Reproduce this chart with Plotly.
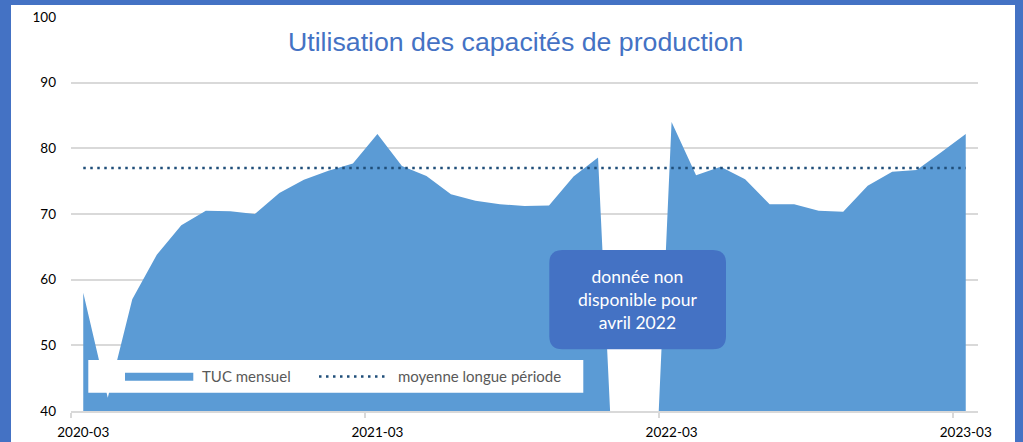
import plotly.graph_objects as go

# ---- data ----
months = ["2020-03", "2020-04", "2020-05", "2020-06", "2020-07", "2020-08", "2020-09",
          "2020-10", "2020-11", "2020-12", "2021-01", "2021-02", "2021-03", "2021-04",
          "2021-05", "2021-06", "2021-07", "2021-08", "2021-09", "2021-10", "2021-11",
          "2021-12", "2022-01", "2022-02", "2022-03", "2022-04", "2022-05", "2022-06",
          "2022-07", "2022-08", "2022-09", "2022-10", "2022-11", "2022-12", "2023-01",
          "2023-02", "2023-03"]
tuc_mensuel = [58.0, 42.0, 57.0, 63.8, 68.3, 70.5, 70.4,
               70.0, 73.2, 75.2, 76.6, 77.7, 82.2, 77.3,
               75.8, 73.0, 72.0, 71.5, 71.2, 71.3, 75.7,
               78.6, 0.0, 0.0, 84.0, 75.9, 77.2, 75.3,
               71.5, 71.5, 70.5, 70.35, 74.3, 76.45, 76.7,
               79.4, 82.2]
moyenne_value = 77.0
moyenne = [moyenne_value] * len(months)
tick_labels = ["2020-03", "2021-03", "2022-03", "2023-03"]
y_ticks = [40, 50, 60, 70, 80, 90, 100]

title_text = "Utilisation des capacités de production"
note_text = "donnée non<br>disponible pour<br>avril 2022"
legend_names = ["TUC mensuel", "moyenne longue période"]

# ---- layout geometry (pixels) ----
W, H = 1023, 442
L, R, T, B = 71, 45, 17, 31
PW, PH = W - L - R, H - T - B
def px(x):
    return (x - L) / PW
def py(y):
    return (H - B - y) / PH

xi = list(range(len(months)))
idx = {m: i for i, m in enumerate(months)}

AREA = "#5B9BD5"
FRAME = "#4472C4"
DOT = "#1F4E79"
GRID = "#D9D9D9"

fig = go.Figure()
fig.add_trace(go.Scatter(x=xi, y=tuc_mensuel, mode="none", fill="tozeroy",
                         fillcolor=AREA, name=legend_names[0], showlegend=False,
                         hoverinfo="skip"))
fig.add_trace(go.Scatter(x=xi, y=moyenne, mode="lines",
                         line=dict(color=DOT, width=2.5, dash="2.5px,4.5px"),
                         name=legend_names[1], showlegend=False, hoverinfo="skip"))

shapes = []
# blue frame
for (x0, y0, x1, y1) in [(-5, -5, 11, H + 5), (-5, -5, W + 5, 5), (1015, -5, W + 5, H + 5)]:
    shapes.append(dict(type="rect", xref="paper", yref="paper",
                       x0=px(x0), x1=px(x1), y0=py(y1), y1=py(y0),
                       fillcolor=FRAME, line=dict(width=0), layer="above"))
# legend box
shapes.append(dict(type="rect", xref="paper", yref="paper",
                   x0=px(88.3), x1=px(583.3), y0=py(392.7), y1=py(360),
                   fillcolor="white", line=dict(width=0), layer="above"))
shapes.append(dict(type="rect", xref="paper", yref="paper",
                   x0=px(125), x1=px(193.3), y0=py(380.7), y1=py(372.7),
                   fillcolor=AREA, line=dict(width=0), layer="above"))
shapes.append(dict(type="line", xref="paper", yref="paper",
                   x0=px(319), x1=px(386), y0=py(376.5), y1=py(376.5),
                   line=dict(color=DOT, width=2.5, dash="2.5px,4.5px"), layer="above"))
# rounded note box
bx0, bx1, by0, by1, rr = 549.3, 726.0, 250.0, 349.3, 13
pts = [
    ("M", bx0 + rr, by0), ("L", bx1 - rr, by0), ("Q", bx1, by0, bx1, by0 + rr),
    ("L", bx1, by1 - rr), ("Q", bx1, by1, bx1 - rr, by1), ("L", bx0 + rr, by1),
    ("Q", bx0, by1, bx0, by1 - rr), ("L", bx0, by0 + rr), ("Q", bx0, by0, bx0 + rr, by0),
]
path = ""
for p in pts:
    cmd = p[0]
    coords = p[1:]
    seg = []
    for k in range(0, len(coords), 2):
        seg.append(f"{px(coords[k]):.5f},{py(coords[k+1]):.5f}")
    path += cmd + " " + " ".join(seg) + " "
path += "Z"
shapes.append(dict(type="path", xref="paper", yref="paper", path=path,
                   fillcolor=FRAME, line=dict(width=0), layer="above"))

annotations = [
    dict(text=title_text, xref="paper", yref="paper", x=px(515.5), y=py(42.4),
         xanchor="center", yanchor="middle", showarrow=False,
         font=dict(family="Liberation Sans", size=26.7, color=FRAME)),
    dict(text=note_text, xref="paper", yref="paper", x=px(637.7), y=py(299),
         xanchor="center", yanchor="middle", showarrow=False, align="center",
         font=dict(family="Lato", size=17.5, color="white")),
    dict(text=legend_names[0], xref="paper", yref="paper", x=px(199.7), y=py(376),
         xanchor="left", yanchor="middle", showarrow=False,
         font=dict(family="Lato", size=15, color="#595959")),
    dict(text=legend_names[1], xref="paper", yref="paper", x=px(395.7), y=py(376),
         xanchor="left", yanchor="middle", showarrow=False,
         font=dict(family="Lato", size=15, color="#595959")),
]

fig.update_layout(
    width=W, height=H,
    margin=dict(l=L, r=R, t=T, b=B, pad=0, autoexpand=False),
    paper_bgcolor="white", plot_bgcolor="white",
    showlegend=False,
    shapes=shapes, annotations=annotations,
    xaxis=dict(range=[-0.5, len(months) - 0.5], tickmode="array",
               tickvals=[idx[m] for m in tick_labels], ticktext=tick_labels,
               ticks="", showgrid=False, zeroline=False, automargin=False,
               showline=True, linecolor=GRID, linewidth=1.5,
               ticklabelstandoff=8,
               tickfont=dict(family="Lato", size=13.5, color="black")
               , minor=dict(tickmode="array",
                          tickvals=[idx[m] - 0.5 for m in tick_labels],
                          ticks="outside", ticklen=5, tickcolor=GRID, tickwidth=1.5,
                          showgrid=False)),
    yaxis=dict(range=[40, 100], tickmode="array", tickvals=y_ticks, automargin=False,
               showgrid=True, gridcolor=GRID, gridwidth=1.5, zeroline=False,
               showline=False, ticks="", ticklabelstandoff=14,
               tickfont=dict(family="Lato", size=13.5, color="black")),
)

fig.write_html("out.html", config={"displayModeBar": False},
               post_script="document.body.style.margin='0';")
